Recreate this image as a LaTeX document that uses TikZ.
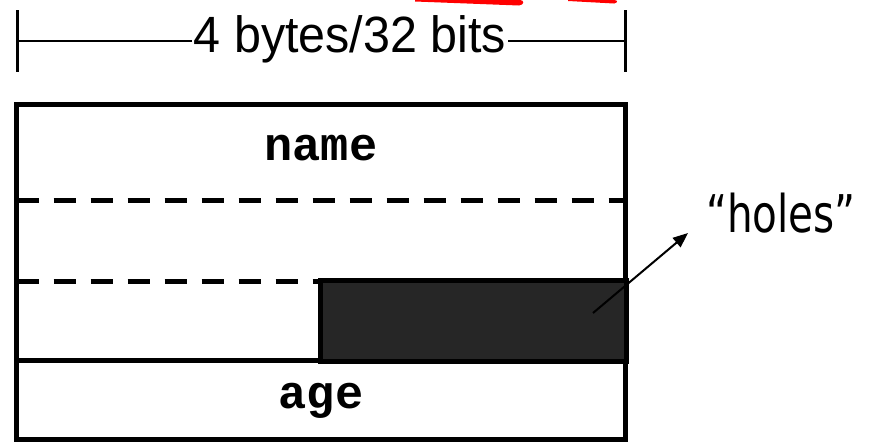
\documentclass[tikz,border=0pt]{standalone}
\usepackage{fontspec}
\usepackage{graphicx}
\setmainfont{Liberation Sans}
\newfontfamily\codefont{Liberation Mono}
\newfontfamily\notefont{DejaVu Sans Condensed}
\usetikzlibrary{arrows.meta}
\definecolor{holefill}{HTML}{262626}
\definecolor{markred}{HTML}{FF0000}
\begin{document}
\begin{tikzpicture}[x=1pt,y=-1pt,
  frame/.style={line width=5pt},
  sep/.style={line width=5pt, dash pattern=on 22pt off 15pt},
  tick/.style={line width=3pt},
  dimline/.style={line width=2.5pt},
  field/.style={font=\codefont\bfseries\fontsize{47}{47}\selectfont, inner sep=0pt, anchor=base},
  dimtext/.style={font=\fontsize{51}{51}\selectfont, inner sep=2pt, anchor=base},
  notetext/.style={font=\notefont\fontsize{52}{52}\selectfont, inner sep=0pt, anchor=base west},
  pointer/.style={line width=2pt, -{Triangle[length=15pt,width=12pt]}}]
\useasboundingbox (0,0) rectangle (872,442);

% red marks along the top edge
\fill[markred] (415,0) -- (520,0) .. controls (524.5,0) and (524.5,5) .. (519,5.5) -- (415,1.5) -- cycle;
\fill[markred] (568,0) -- (614,0) .. controls (618,0) and (618,3) .. (614,3.5) -- (568,1) -- cycle;

% width dimension
\coordinate (lt) at (17,41);
\coordinate (rt) at (625,41);
\draw[tick] (17,10) -- (17,72);
\draw[tick] (625,10) -- (625,72);
\node[dimtext] (dim) at (350,52) {\scalebox{0.95}[1]{4 bytes/32 bits}};
\draw[dimline] (lt) -- (dim.west |- lt);
\draw[dimline] (dim.east |- rt) -- (rt);

% struct layout
\draw[frame] (16.5,104.5) rectangle (625,439.5);
\draw[sep] (16.5,200) -- (625,200);
\draw[sep] (16.5,281) -- (320,281);
\draw[frame] (16.5,360) -- (320,360);
\draw[frame, fill=holefill] (320.5,280) rectangle (626,361.5);

\node[field] (name) at (321,160) {name};
\node[field] (age) at (321,408) {age};

% padding annotation
\coordinate (holein) at (593,313);
\coordinate (holetip) at (688,233);
\node[notetext] (holes) at (706,232) {\scalebox{0.865}[1]{“holes”}};
\draw[pointer] (holein) -- (holetip);
\end{tikzpicture}
\end{document}
